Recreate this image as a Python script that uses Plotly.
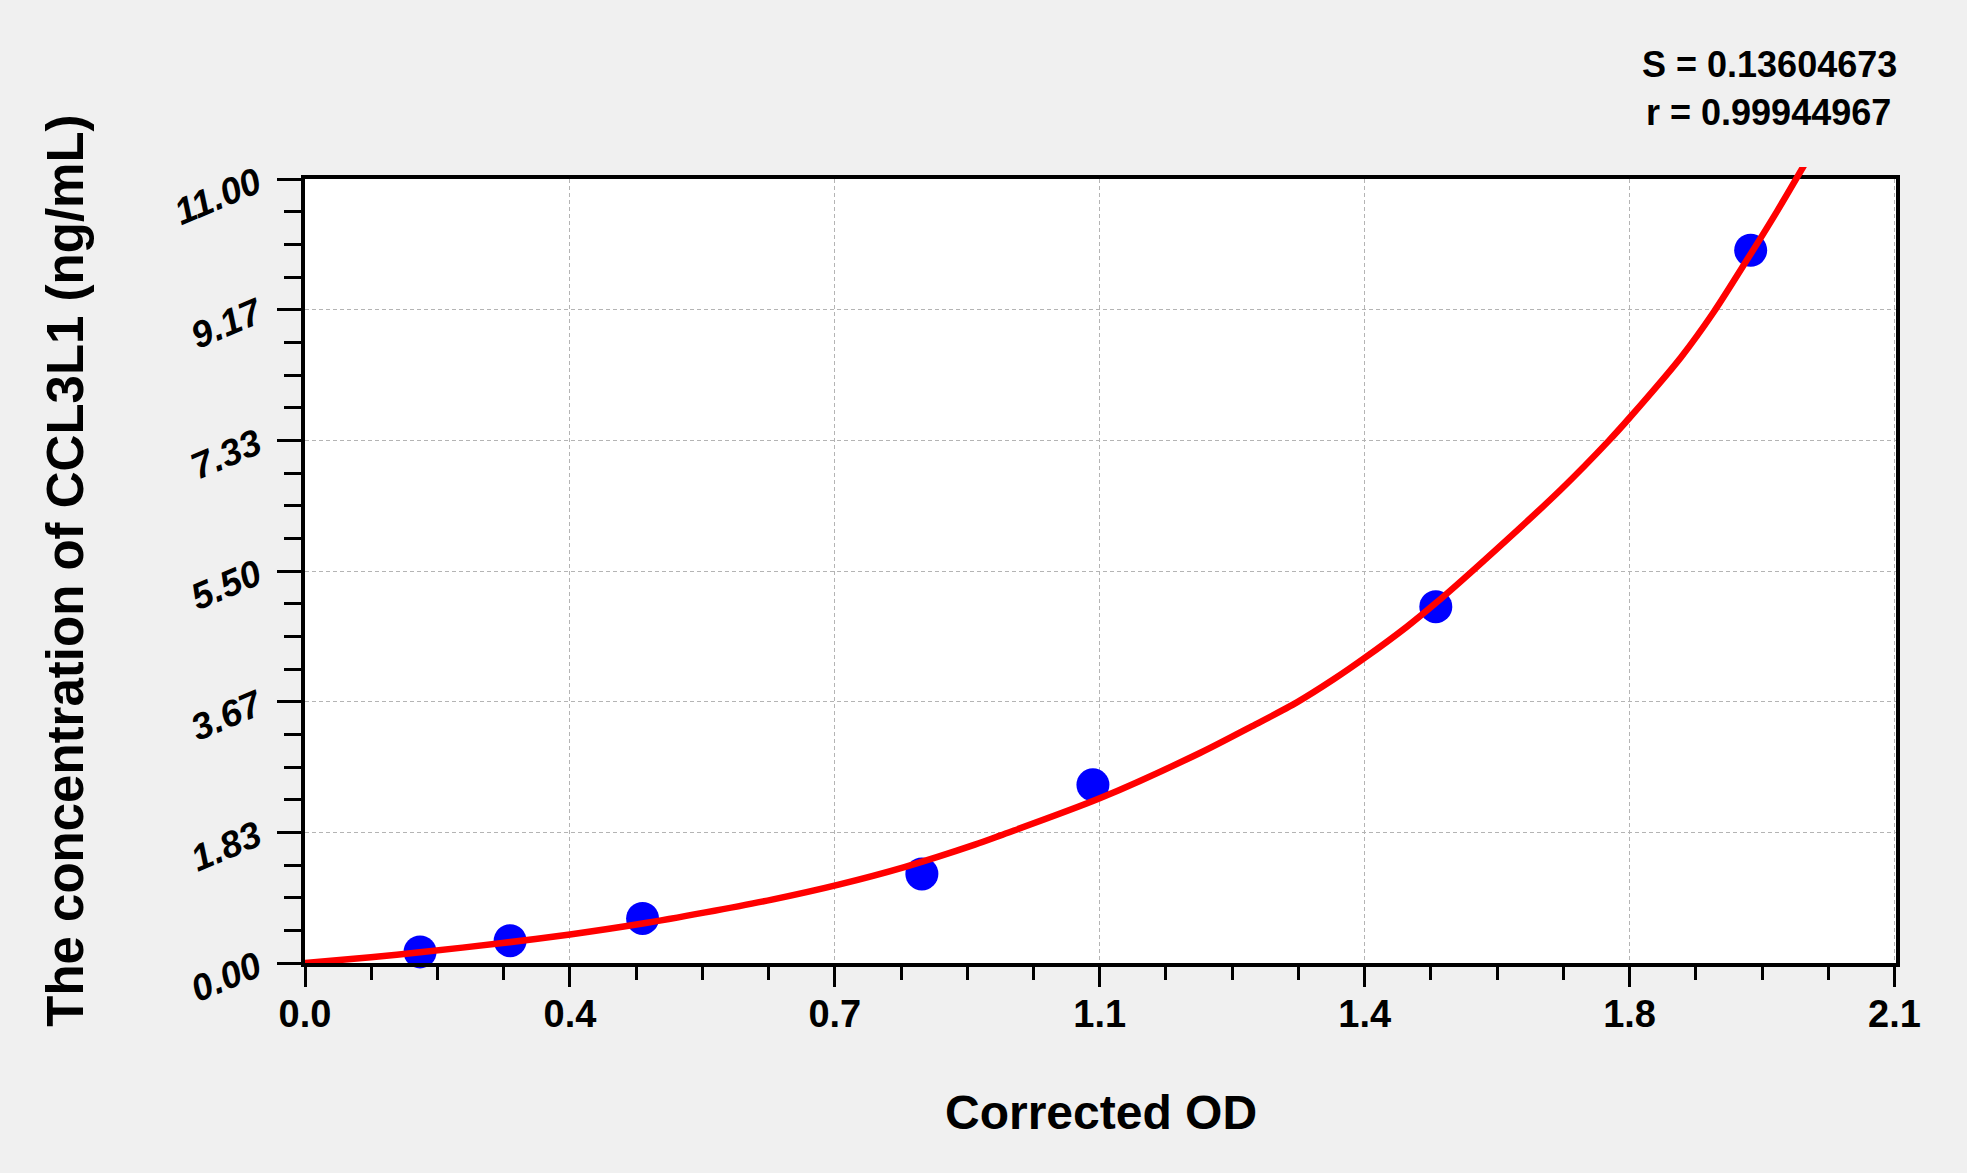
import plotly.graph_objects as go

# standards
od_std = [0.152, 0.271, 0.446, 0.815, 1.041, 1.494, 1.910]
conc_std = [0.156, 0.313, 0.625, 1.25, 2.5, 5.0, 10.0]

# fitted curve
fit_od = [0.0, 0.087, 0.152, 0.261, 0.35, 0.444, 0.529, 0.617, 0.705, 0.792,
          0.885, 0.919, 1.05, 1.183, 1.249, 1.311, 1.359, 1.4, 1.456, 1.494, 1.558,
          1.659, 1.723, 1.75, 1.818, 1.861, 1.906, 1.945, 1.981]
fit_conc = [0.0, 0.08, 0.15, 0.28, 0.40, 0.55, 0.71, 0.89, 1.10, 1.346,
            1.66, 1.79, 2.31, 2.95, 3.31, 3.66, 3.98, 4.28, 4.72, 5.05, 5.65,
            6.64, 7.333, 7.65, 8.50, 9.13, 9.88, 10.55, 11.2]

x_ticks = [0.0, 0.35, 0.7, 1.05, 1.4, 1.75, 2.1]
x_labels = ['0.0', '0.4', '0.7', '1.1', '1.4', '1.8', '2.1']
y_ticks = [0.0, 11 / 6, 22 / 6, 5.5, 44 / 6, 55 / 6, 11.0]
y_labels = ['0.00', '1.83', '3.67', '5.50', '7.33', '9.17', '11.00']

s_text = 'S = 0.13604673'
r_text = 'r = 0.99944967'

FONT = 'Liberation Sans'
X_MAX = 2.102
Y_MAX = 11.0
# main frame height vs. the taller clip area used by the curve (it runs past the top)
FRAME_FRAC = 784 / 796

fig = go.Figure()
fig.add_trace(go.Scatter(x=od_std, y=conc_std, mode='markers',
                         marker=dict(color='#0000ff', size=33), cliponaxis=False))
fig.add_trace(go.Scatter(x=fit_od, y=fit_conc, mode='lines', xaxis='x2', yaxis='y2',
                         line=dict(color='#ff0000', width=6.5, shape='spline', smoothing=0.8)))

axis_common = dict(showline=True, linecolor='black', linewidth=3.5, mirror=True,
                   ticks='outside', tickcolor='black', tickwidth=3,
                   showgrid=True, gridcolor='#b4b4b4', gridwidth=1, griddash='4px,3px',
                   zeroline=False)

fig.update_layout(
    xaxis=dict(range=[0, X_MAX], tickmode='array', tickvals=x_ticks, ticktext=x_labels,
               ticklen=20, ticklabelstandoff=-5,
               tickfont=dict(family=FONT, size=38, weight='bold', color='black'),
               minor=dict(dtick=0.0875, tick0=0, ticks='outside', ticklen=13,
                          tickwidth=3, tickcolor='black', showgrid=False),
               **axis_common),
    yaxis=dict(range=[0, Y_MAX], domain=[0, FRAME_FRAC], tickmode='array',
               tickvals=y_ticks, ticktext=y_labels, ticklen=24, tickangle=-23,
               ticklabelstandoff=13,
               tickfont=dict(family=FONT, size=37, weight='bold', style='italic', color='black'),
               minor=dict(dtick=11 / 24, tick0=0, ticks='outside', ticklen=17,
                          tickwidth=3, tickcolor='black', showgrid=False),
               **axis_common),
    xaxis2=dict(range=[0, X_MAX], domain=[0, 1], anchor='y2', visible=False, showgrid=False),
    yaxis2=dict(range=[0, Y_MAX / FRAME_FRAC], domain=[0, 1], anchor='x2',
                visible=False, showgrid=False),
)

# white plot area drawn as a shape so the overlaid curve subplot stays see-through
fig.add_shape(type='rect', xref='x domain', yref='y domain', x0=0, x1=1, y0=0, y1=1,
              fillcolor='white', line_width=0, layer='below')

fig.add_annotation(text='Corrected OD', xref='paper', yref='paper', x=0.5, y=-0.188,
                   xanchor='center', yanchor='middle', showarrow=False,
                   font=dict(family=FONT, size=48, weight='bold', color='black'))
fig.add_annotation(text='The concentration of CCL3L1 (ng/mL)', xref='paper', yref='paper',
                   x=-0.151, y=0.5 * FRAME_FRAC, xanchor='center', yanchor='middle',
                   textangle=-90, showarrow=False,
                   font=dict(family=FONT, size=51, weight='bold', color='black'))
fig.add_annotation(text=s_text, xref='paper', yref='paper', x=1.002, y=1.129,
                   xanchor='right', yanchor='middle', showarrow=False,
                   font=dict(family=FONT, size=36, weight='bold', color='black'))
fig.add_annotation(text=r_text, xref='paper', yref='paper', x=0.998, y=1.069,
                   xanchor='right', yanchor='middle', showarrow=False,
                   font=dict(family=FONT, size=36, weight='bold', color='black'))

fig.update_layout(width=1967, height=1173, showlegend=False,
                  paper_bgcolor='#f0f0f0', plot_bgcolor='rgba(0,0,0,0)',
                  margin=dict(l=305, r=71, t=167, b=210))

fig.write_html('out.html', config={'displayModeBar': False},
               post_script="document.body.style.margin='0';"
                           "document.body.style.background='#f0f0f0';")
